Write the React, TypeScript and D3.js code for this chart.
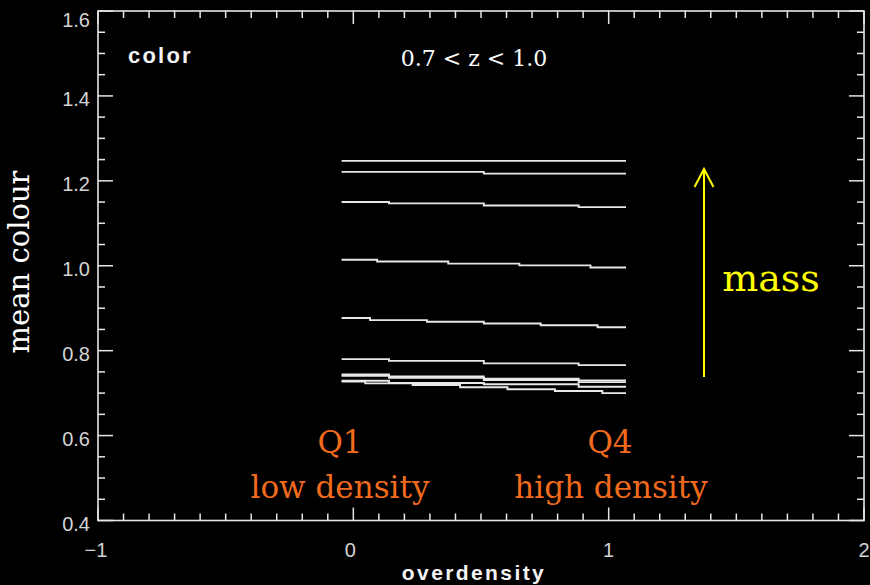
import React from "react";
import * as d3 from "d3";

const W = 870;
const H = 585;

// x and y domains / ticks
const xDomain = [-1, 2];
const yDomain = [0.4, 1.6];
const xMajorTicks = [-1, 0, 1, 2];
const xTickLabels = ["\u22121", "0", "1", "2"];
const yMajorTicks = [0.4, 0.6, 0.8, 1.0, 1.2, 1.4, 1.6];
const yTickLabels = ["0.4", "0.6", "0.8", "1.0", "1.2", "1.4", "1.6"];

// overdensity range covered by the step lines
const lineStartX = -0.046;
const lineEndX = 1.068;

// mean colour per overdensity bin, one series per mass bin
const massBin1 = [1.247, 1.247];
const massBin2 = [1.221, 1.217];
const massBin3 = [1.15, 1.147, 1.142, 1.138];
const massBin4 = [1.014, 1.01, 1.005, 1.001, 0.996];
const massBin5 = [0.877, 0.872, 0.868, 0.864, 0.86, 0.855];
const massBin6 = [0.78, 0.776, 0.77, 0.766];
const massBin7 = [0.744, 0.739, 0.734, 0.73];
const massBin8 = [0.741, 0.736, 0.731, 0.726];
const massBin9 = [0.727, 0.723, 0.719, 0.714, 0.709, 0.705, 0.7];
const massBin10 = [0.729, 0.724, 0.721, 0.715];
const series = [massBin1, massBin2, massBin3, massBin4, massBin5, massBin6, massBin7, massBin8, massBin9, massBin10];

const plot = { left: 98, right: 864, top: 11, bottom: 520.5 };

export default function App() {
  const x = d3.scaleLinear().domain(xDomain).range([plot.left, plot.right]);
  const y = d3.scaleLinear().domain(yDomain).range([plot.bottom, plot.top]);

  const xMinor = d3.range(-10, 21).map((i) => i / 10).filter((v) => !xMajorTicks.some((m) => Math.abs(m - v) < 1e-9));
  const yMinor = d3.range(8, 33).map((i) => i / 20).filter((v) => !yMajorTicks.some((m) => Math.abs(m - v) < 1e-9));

  const line = d3
    .line<[number, number]>()
    .x((d) => x(d[0]))
    .y((d) => y(d[1]))
    .curve(d3.curveStep);

  const axisColor = "#e6e6e6";
  const labelColor = "#d4d4d4";
  const majorLen = 13;
  const minorLen = 7;

  return (
    <div style={{ position: "fixed", left: 0, top: 0, width: W, height: H, background: "#000" }}>
      <svg width={W} height={H} style={{ display: "block", background: "#000" }}>
        <rect x={0} y={0} width={W} height={H} fill="#000" />

        {/* frame */}
        <rect
          x={plot.left}
          y={plot.top}
          width={plot.right - plot.left}
          height={plot.bottom - plot.top}
          fill="none"
          stroke={axisColor}
          strokeWidth={1.6}
        />

        {/* x ticks bottom & top */}
        {xMajorTicks.map((v) => (
          <g key={"xM" + v}>
            <line x1={x(v)} x2={x(v)} y1={plot.bottom} y2={plot.bottom - majorLen} stroke={axisColor} strokeWidth={1.5} />
            <line x1={x(v)} x2={x(v)} y1={plot.top} y2={plot.top + majorLen} stroke={axisColor} strokeWidth={1.5} />
          </g>
        ))}
        {xMinor.map((v) => (
          <g key={"xm" + v}>
            <line x1={x(v)} x2={x(v)} y1={plot.bottom} y2={plot.bottom - minorLen} stroke={axisColor} strokeWidth={1.5} />
            <line x1={x(v)} x2={x(v)} y1={plot.top} y2={plot.top + minorLen} stroke={axisColor} strokeWidth={1.5} />
          </g>
        ))}

        {/* y ticks left & right */}
        {yMajorTicks.map((v) => (
          <g key={"yM" + v}>
            <line x1={plot.left} x2={plot.left + majorLen + 2} y1={y(v)} y2={y(v)} stroke={axisColor} strokeWidth={1.5} />
            <line x1={plot.right} x2={plot.right - majorLen - 2} y1={y(v)} y2={y(v)} stroke={axisColor} strokeWidth={1.5} />
          </g>
        ))}
        {yMinor.map((v) => (
          <g key={"ym" + v}>
            <line x1={plot.left} x2={plot.left + minorLen} y1={y(v)} y2={y(v)} stroke={axisColor} strokeWidth={1.5} />
            <line x1={plot.right} x2={plot.right - minorLen} y1={y(v)} y2={y(v)} stroke={axisColor} strokeWidth={1.5} />
          </g>
        ))}

        {/* tick labels */}
        {yMajorTicks.map((v, i) => (
          <text
            key={"yl" + v}
            x={90}
            y={Math.max(20, y(v) + 3)}
            textAnchor="end"
            dominantBaseline="central"
            fill={labelColor}
            fontFamily="Liberation Sans, Arial, sans-serif"
            fontSize={20}
          >
            {yTickLabels[i]}
          </text>
        ))}
        {xMajorTicks.map((v, i) => (
          <text
            key={"xl" + v}
            x={x(v) - (i === 0 ? 2 : i === 1 ? 3 : 0)}
            y={550}
            textAnchor="middle"
            dominantBaseline="central"
            fill={labelColor}
            fontFamily="Liberation Sans, Arial, sans-serif"
            fontSize={20}
          >
            {xTickLabels[i]}
          </text>
        ))}

        {/* step lines */}
        {series.map((vals, i) => {
          const n = vals.length;
          const pts: [number, number][] = vals.map((v, j) => [lineStartX + (j * (lineEndX - lineStartX)) / (n - 1), v]);
          return <path key={"s" + i} d={line(pts) || ""} fill="none" stroke="#e8e8e8" strokeWidth={1.9} />;
        })}

        {/* panel label */}
        <text x={128} y={63} fill="#f4f4f4" fontFamily="Liberation Sans, Arial, sans-serif" fontWeight="bold" fontSize={22} letterSpacing={2.2}>
          color
        </text>
        <text x={474} y={66} textAnchor="middle" fill="#fff" fontFamily="DejaVu Serif, serif" fontSize={22}>
          0.7 &lt; z &lt; 1.0
        </text>

        {/* x axis title */}
        <text x={474} y={580} textAnchor="middle" fill="#f4f4f4" fontFamily="Liberation Sans, Arial, sans-serif" fontWeight="bold" fontSize={21} letterSpacing={2.4}>
          overdensity
        </text>

        {/* y axis title */}
        <text
          transform="translate(29,262) rotate(-90)"
          textAnchor="middle"
          fill="#fff"
          fontFamily="DejaVu Serif, serif"
          fontSize={29}
        >
          mean colour
        </text>

        {/* annotations */}
        <text x={340} y={453} textAnchor="middle" fill="#f26b1d" fontFamily="DejaVu Serif, serif" fontSize={31}>Q1</text>
        <text x={340} y={498} textAnchor="middle" fill="#f26b1d" fontFamily="DejaVu Serif, serif" fontSize={31}>low density</text>
        <text x={610} y={453} textAnchor="middle" fill="#f26b1d" fontFamily="DejaVu Serif, serif" fontSize={31}>Q4</text>
        <text x={611} y={498} textAnchor="middle" fill="#f26b1d" fontFamily="DejaVu Serif, serif" fontSize={31}>high density</text>

        {/* mass arrow */}
        <line x1={704} x2={704} y1={377} y2={169} stroke="#ffff00" strokeWidth={2} />
        <polyline points="694.5,187 704,169 713.5,187" fill="none" stroke="#ffff00" strokeWidth={2} />
        <text x={771} y={291} textAnchor="middle" fill="#ffff00" fontFamily="DejaVu Serif, serif" fontSize={38}>mass</text>
      </svg>
    </div>
  );
}
